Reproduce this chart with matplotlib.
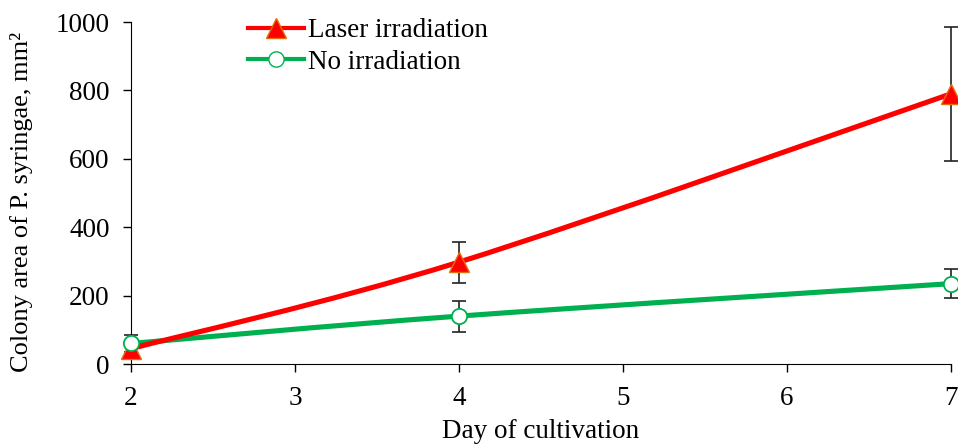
import numpy as np
import matplotlib.pyplot as plt
from matplotlib.path import Path
from matplotlib.patches import PathPatch

# Data
days = [2, 4, 7]
laser = [45, 298, 790]
laser_err = [20, 60, 195]
no_irr = [60, 140, 235]
no_irr_err = [25, 45, 43]

plt.rcParams['font.family'] = ['Liberation Serif', 'DejaVu Serif']
plt.rcParams['font.size'] = 19.5

RED = '#FF0000'
ORANGE = '#E46C0A'
GREEN = '#00B050'


def smooth_path(x, y):
    # Excel-style smoothed line (Catmull-Rom as cubic Bezier)
    pts = np.column_stack([x, y]).astype(float)
    ext = np.vstack([pts[0], pts, pts[-1]])
    verts = [pts[0]]
    codes = [Path.MOVETO]
    for i in range(1, len(ext) - 2):
        p0, p1, p2, p3 = ext[i - 1], ext[i], ext[i + 1], ext[i + 2]
        verts += [p1 + (p2 - p0) / 6, p2 - (p3 - p1) / 6, p2]
        codes += [Path.CURVE4] * 3
    return Path(verts, codes)


fig = plt.figure(figsize=(9.58, 4.44), dpi=100)
ax = fig.add_axes([131 / 958, 1 - 364 / 444, (951 - 131) / 958, (364 - 22) / 444])

for y, err in [(no_irr, no_irr_err), (laser, laser_err)]:
    ax.errorbar(days, y, yerr=err, fmt='none', ecolor='#222222',
                elinewidth=1.2, capsize=5, capthick=1.2, zorder=2, clip_on=False)

ax.add_patch(PathPatch(smooth_path(days, no_irr), fill=False, edgecolor=GREEN,
                       lw=3.7, capstyle='round', zorder=3))
ax.add_patch(PathPatch(smooth_path(days, laser), fill=False, edgecolor=RED,
                       lw=3.7, capstyle='round', zorder=3))

ax.plot(days, laser, linestyle='none', marker='^', markersize=14,
        markerfacecolor=RED, markeredgecolor=ORANGE, markeredgewidth=1,
        zorder=4, clip_on=False)
ax.plot(days, no_irr, linestyle='none', marker='o', markersize=11,
        markerfacecolor='white', markeredgecolor=GREEN, markeredgewidth=1.3,
        zorder=5, clip_on=False)

# legend proxies
ax.plot([], [], color=RED, lw=3, marker='^', markersize=14,
        markerfacecolor=RED, markeredgecolor=ORANGE, label='Laser irradiation')
ax.plot([], [], color=GREEN, lw=3, marker='o', markersize=11,
        markerfacecolor='white', markeredgecolor=GREEN, label='No irradiation')
leg = ax.legend(loc='upper left', bbox_to_anchor=(248 / 958, 1 - 18 / 444),
                bbox_transform=fig.transFigure, frameon=False,
                handlelength=2.07, handletextpad=0.15, labelspacing=0.25,
                borderaxespad=0, borderpad=0, fontsize=19.5)

ax.set_xlim(2, 7)
ax.set_ylim(0, 1000)
ax.set_xticks([2, 3, 4, 5, 6, 7])
ax.set_yticks(range(0, 1001, 200))
ax.spines['top'].set_visible(False)
ax.spines['right'].set_visible(False)
ax.tick_params(direction='out', length=5.8, width=1)
ax.tick_params(axis='x', pad=10)
ax.tick_params(axis='y', pad=9.5)
ax.set_xlabel('Day of cultivation')
ax.set_ylabel('Colony area of P. syringae, mm\u00b2', fontsize=19)
ax.xaxis.set_label_coords(0.5 * (131 + 951) / 958, 1 - 419 / 444, transform=fig.transFigure)
ax.yaxis.set_label_coords(33 / 958, 1 - 202 / 444, transform=fig.transFigure)

fig.savefig('out.png', dpi=100)
